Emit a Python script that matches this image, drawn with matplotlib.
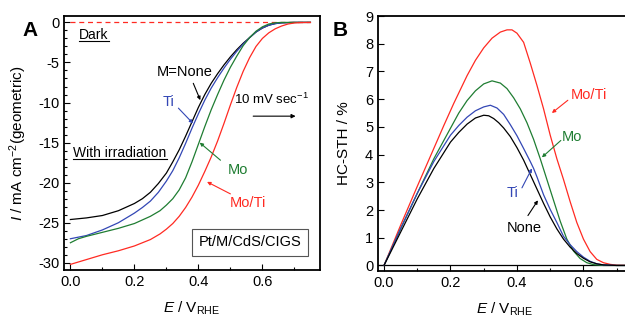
import matplotlib
matplotlib.use("Agg")
import matplotlib.pyplot as plt
from matplotlib.lines import Line2D
from matplotlib.ticker import MultipleLocator

plt.rcParams['font.family'] = ['Liberation Sans', 'DejaVu Sans']
plt.rcParams['mathtext.fontset'] = 'custom'
plt.rcParams['mathtext.rm'] = 'Liberation Sans'
plt.rcParams['mathtext.it'] = 'Liberation Sans:italic'
plt.rcParams['axes.unicode_minus'] = False
plt.rcParams['font.size'] = 10.5

BLACK = 'black'
BLUE = '#3347b5'
GREEN = '#1f7d32'
RED = '#ff2a22'

# ---- panel A: current density vs potential
e_none = [0.0, 0.05, 0.1, 0.15, 0.2, 0.225, 0.25, 0.275, 0.3, 0.32, 0.34, 0.36, 0.38,
          0.40, 0.42, 0.44, 0.46, 0.48, 0.50, 0.52, 0.54, 0.56, 0.58, 0.60, 0.62, 0.64,
          0.66, 0.7, 0.75]
j_none = [-24.6, -24.4, -24.1, -23.5, -22.6, -22.0, -21.2, -20.1, -18.8, -17.4, -15.9,
          -14.2, -12.4, -10.6, -9.0, -7.6, -6.4, -5.3, -4.3, -3.4, -2.6, -1.9, -1.2,
          -0.7, -0.35, -0.15, -0.05, 0.0, 0.0]

e_ti = [0.0, 0.05, 0.1, 0.15, 0.2, 0.225, 0.25, 0.275, 0.3, 0.32, 0.34, 0.36, 0.38,
        0.40, 0.42, 0.44, 0.46, 0.48, 0.50, 0.52, 0.54, 0.56, 0.58, 0.60, 0.62, 0.64,
        0.66, 0.7, 0.75]
j_ti = [-27.0, -26.6, -25.9, -25.0, -23.8, -23.1, -22.3, -21.2, -19.8, -18.5, -16.9,
        -15.1, -13.2, -11.4, -9.7, -8.2, -6.9, -5.7, -4.6, -3.6, -2.7, -1.9, -1.2,
        -0.7, -0.35, -0.15, -0.05, 0.0, 0.0]

e_mo = [0.0, 0.025, 0.05, 0.1, 0.15, 0.2, 0.25, 0.28, 0.3, 0.32, 0.34, 0.36, 0.38,
        0.40, 0.42, 0.44, 0.46, 0.48, 0.50, 0.52, 0.54, 0.56, 0.58, 0.60, 0.62, 0.64,
        0.66, 0.75]
j_mo = [-27.5, -27.0, -26.7, -26.2, -25.7, -25.1, -24.2, -23.5, -22.8, -22.0, -20.9,
        -19.4, -17.4, -15.2, -13.0, -10.9, -9.0, -7.2, -5.6, -4.2, -2.9, -1.9, -1.1,
        -0.55, -0.2, -0.05, 0.0, 0.0]

e_moti = [0.0, 0.05, 0.1, 0.15, 0.2, 0.25, 0.28, 0.3, 0.32, 0.34, 0.36, 0.38, 0.40,
          0.42, 0.44, 0.46, 0.48, 0.50, 0.52, 0.54, 0.56, 0.58, 0.60, 0.62, 0.64, 0.66,
          0.68, 0.70, 0.72, 0.75]
j_moti = [-30.2, -29.6, -29.0, -28.5, -27.9, -27.1, -26.4, -25.8, -25.1, -24.2, -23.1,
          -21.8, -20.3, -18.6, -16.8, -14.8, -12.6, -10.3, -8.1, -6.1, -4.4, -3.0, -2.0,
          -1.3, -0.8, -0.45, -0.2, -0.07, -0.02, 0.0]

e_dark = [0.0, 0.75]
j_dark = [0.0, 0.0]

# ---- panel B: HC-STH efficiency vs potential
b_e_none = [0.0, 0.05, 0.1, 0.15, 0.2, 0.225, 0.25, 0.275, 0.3, 0.315, 0.33, 0.345,
            0.36, 0.38, 0.40, 0.42, 0.44, 0.46, 0.48, 0.50, 0.52, 0.54, 0.56, 0.58,
            0.60, 0.62, 0.64, 0.66, 0.7, 0.75]
b_none = [0.0, 1.2, 2.4, 3.5, 4.45, 4.8, 5.1, 5.32, 5.42, 5.4, 5.3, 5.15,
          4.96, 4.65, 4.25, 3.8, 3.28, 2.76, 2.24, 1.75, 1.32, 0.95, 0.66, 0.43,
          0.26, 0.13, 0.06, 0.02, 0.0, 0.0]

b_e_ti = [0.0, 0.05, 0.1, 0.15, 0.2, 0.225, 0.25, 0.275, 0.3, 0.32, 0.34, 0.36, 0.38,
          0.40, 0.42, 0.44, 0.45, 0.46, 0.48, 0.50, 0.52, 0.54, 0.56, 0.58, 0.60, 0.62,
          0.64, 0.66, 0.7, 0.75]
b_ti = [0.0, 1.33, 2.6, 3.75, 4.7, 5.05, 5.35, 5.58, 5.72, 5.78, 5.68, 5.45, 5.08,
        4.68, 4.22, 3.75, 3.5, 3.2, 2.55, 2.02, 1.55, 1.05, 0.75, 0.5, 0.3, 0.15,
        0.06, 0.02, 0.0, 0.0]

b_e_mo = [0.0, 0.05, 0.1, 0.15, 0.2, 0.225, 0.25, 0.275, 0.3, 0.325, 0.35, 0.37, 0.39,
          0.41, 0.43, 0.45, 0.47, 0.49, 0.51, 0.53, 0.55, 0.57, 0.59, 0.61, 0.63, 0.66,
          0.75]
b_mo = [0.0, 1.32, 2.6, 3.85, 4.95, 5.5, 5.95, 6.3, 6.55, 6.66, 6.58, 6.38, 6.05,
        5.65, 5.15, 4.55, 3.85, 3.1, 2.35, 1.6, 0.95, 0.52, 0.25, 0.1, 0.03, 0.0,
        0.0]

b_e_moti = [0.0, 0.05, 0.1, 0.14, 0.18, 0.21, 0.25, 0.275, 0.3, 0.325, 0.35, 0.37,
            0.385, 0.40, 0.42, 0.44, 0.46, 0.48, 0.50, 0.52, 0.54, 0.56, 0.58, 0.60,
            0.62, 0.64, 0.66, 0.68, 0.70, 0.75]
b_moti = [0.0, 1.45, 2.85, 3.95, 5.05, 5.85, 6.85, 7.4, 7.85, 8.2, 8.42, 8.5,
          8.5, 8.38, 8.05, 7.3, 6.5, 5.65, 4.7, 3.85, 3.1, 2.3, 1.55, 0.95,
          0.5, 0.22, 0.1, 0.04, 0.01, 0.0]

fig = plt.figure(figsize=(6.25, 3.2), dpi=100)
ax1 = fig.add_axes([64 / 625, 1 - 270 / 320, 256 / 625, 254 / 320])
ax2 = fig.add_axes([378 / 625, 1 - 271 / 320, 254 / 625, 255 / 320])

for ax in (ax1, ax2):
    ax.tick_params(which='both', direction='in', labelsize=10.5, width=0.8)
    ax.tick_params(which='major', length=4)
    ax.tick_params(which='minor', length=2.5)
    for sp in ax.spines.values():
        sp.set_linewidth(1.3)

lw = 0.9

# Panel A
ax1.plot(e_dark, j_dark, color=RED, lw=0.9, ls=(0, (4, 3)))
ax1.plot(e_none, j_none, color=BLACK, lw=lw)
ax1.plot(e_ti, j_ti, color=BLUE, lw=lw)
ax1.plot(e_mo, j_mo, color=GREEN, lw=lw)
ax1.plot(e_moti, j_moti, color=RED, lw=lw)
ax1.set_xlim(-0.02, 0.78)
ax1.set_ylim(-30.9, 0.8)
ax1.xaxis.set_major_locator(MultipleLocator(0.2))
ax1.xaxis.set_minor_locator(MultipleLocator(0.1))
ax1.yaxis.set_major_locator(MultipleLocator(5))
ax1.yaxis.set_minor_locator(MultipleLocator(1))
ax1.set_xticks([0.0, 0.2, 0.4, 0.6])
ax1.set_xticklabels(['0.0', '0.2', '0.4', '0.6'])
ax1.set_ylabel(r'$I$ / mA cm$^{-2}$(geometric)', fontsize=11)
ax1.set_xlabel(r'$E$ / V$_{\mathrm{RHE}}$', fontsize=11)
ax1.yaxis.set_label_coords(-0.135, 0.5)
ax1.xaxis.set_label_coords(0.5, -0.115)

t_dark = ax1.text(0.028, -1.6, 'Dark', ha='left', va='center', fontsize=10)
t_irr = ax1.text(0.009, -16.3, 'With irradiation', ha='left', va='center', fontsize=10)
ax1.text(0.356, -6.2, 'M=None', ha='center', va='center', fontsize=10.5)
ax1.text(0.306, -9.9, 'Ti', ha='center', va='center', fontsize=10.5, color=BLUE)
ax1.text(0.525, -18.4, 'Mo', ha='center', va='center', fontsize=10.5, color=GREEN)
ax1.text(0.556, -22.5, 'Mo/Ti', ha='center', va='center', fontsize=10.5, color=RED)
ax1.text(0.628, -9.6, r'10 mV sec$^{-1}$', ha='center', va='center', fontsize=9.5)
ax1.annotate('', xy=(0.7125, -11.7), xytext=(0.5625, -11.7),
             arrowprops=dict(arrowstyle='-|>', color='k', lw=0.8, mutation_scale=6))
ax1.text(0.5625, -27.45, 'Pt/M/CdS/CIGS', ha='center', va='center', fontsize=10.5,
         bbox=dict(boxstyle='square,pad=0.45', fc='white', ec='#555555', lw=0.8))

leader = dict(arrowstyle='-|>', lw=0.8, mutation_scale=5, shrinkA=0, shrinkB=0)
ax1.annotate('', xy=(0.406, -9.7), xytext=(0.384, -7.6), arrowprops=dict(leader, color=BLACK))
ax1.annotate('', xy=(0.383, -12.6), xytext=(0.3375, -10.7), arrowprops=dict(leader, color=BLUE))
ax1.annotate('', xy=(0.404, -15.0), xytext=(0.469, -17.2), arrowprops=dict(leader, color=GREEN))
ax1.annotate('', xy=(0.427, -19.9), xytext=(0.5, -21.4), arrowprops=dict(leader, color=RED))

# Panel B
ax2.axhline(0, color='k', lw=0.9)
ax2.plot(b_e_moti, b_moti, color=RED, lw=lw)
ax2.plot(b_e_mo, b_mo, color=GREEN, lw=lw)
ax2.plot(b_e_ti, b_ti, color=BLUE, lw=lw)
ax2.plot(b_e_none, b_none, color=BLACK, lw=lw)
ax2.set_xlim(-0.018, 0.746)
ax2.set_ylim(-0.2, 9)
ax2.xaxis.set_major_locator(MultipleLocator(0.2))
ax2.xaxis.set_minor_locator(MultipleLocator(0.1))
ax2.yaxis.set_major_locator(MultipleLocator(1))
ax2.set_xticks([0.0, 0.2, 0.4, 0.6])
ax2.set_xticklabels(['0.0', '0.2', '0.4', '0.6'])
ax2.set_ylabel('HC-STH / %', fontsize=11)
ax2.set_xlabel(r'$E$ / V$_{\mathrm{RHE}}$', fontsize=11)
ax2.yaxis.set_label_coords(-0.105, 0.5)
ax2.xaxis.set_label_coords(0.5, -0.115)

ax2.text(0.617, 6.14, 'Mo/Ti', ha='center', va='center', fontsize=10.5, color=RED)
ax2.text(0.565, 4.62, 'Mo', ha='center', va='center', fontsize=10.5, color=GREEN)
ax2.text(0.388, 2.6, 'Ti', ha='center', va='center', fontsize=10.5, color=BLUE)
ax2.text(0.421, 1.34, 'None', ha='center', va='center', fontsize=10.5, color=BLACK)
ax2.annotate('', xy=(0.505, 5.5), xytext=(0.553, 5.96), arrowprops=dict(leader, color=RED))
ax2.annotate('', xy=(0.475, 3.9), xytext=(0.532, 4.51), arrowprops=dict(leader, color=GREEN))
ax2.annotate('', xy=(0.445, 3.5), xytext=(0.415, 2.8), arrowprops=dict(leader, color=BLUE))
ax2.annotate('', xy=(0.463, 2.35), xytext=(0.433, 1.8), arrowprops=dict(leader, color=BLACK))

fig.text(30 / 625, 1 - 30 / 320, 'A', ha='center', va='center', fontsize=15, fontweight='bold')
fig.text(340 / 625, 1 - 30 / 320, 'B', ha='center', va='center', fontsize=15, fontweight='bold')

# underline the "Dark" / "With irradiation" labels
fig.canvas.draw()
inv = fig.transFigure.inverted()
for t in (t_dark, t_irr):
    bb = t.get_window_extent()
    (x0, y0), (x1, _) = inv.transform([(bb.x0, bb.y0), (bb.x1, bb.y0)])
    fig.add_artist(Line2D([x0, x1], [y0 + 0.004, y0 + 0.004], color='k', lw=0.8))

fig.savefig('out.png', dpi=100)
